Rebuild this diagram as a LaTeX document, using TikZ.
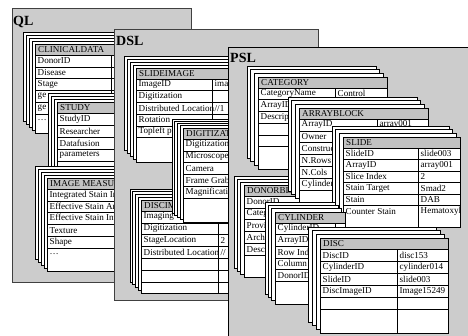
\documentclass[tikz,border=0pt]{standalone}
\usepackage{fontspec}
\setmainfont{Liberation Serif}

\tikzset{
  panel/.style={fill=black!20, draw=black!75, line width=0.6pt},
  card/.style={fill=white, draw=black, line width=0.6pt},
  head/.style={fill=black!24},
  rowline/.style={draw=black, line width=0.5pt},
  celltext/.style={anchor=west, inner sep=0pt, font=\fontsize{9.1}{10}\selectfont},
  paneltitle/.style={anchor=base west, inner sep=0pt, font=\fontsize{14}{16}\selectfont\bfseries},
}

\newcommand{\dbl}{//}
% cards behind a table: how many, and their shift
\newcommand{\ncard}{4}
\newcommand{\cdx}{3}
\newcommand{\cdy}{3}

% #1 name, #2 top left, #3 width, #4 height, #5 column split,
% #6 row height, #7 row lines, #8 title, #9 rows
\newcommand{\dbtable}[9]{%
  \begin{scope}[shift={#2}]
    \foreach \k in {\ncard,...,1}
      \draw[card] (-\k*\cdx,-\k*\cdy) rectangle ++(#3,#4);
    \draw[card] (0,0) rectangle (#3,#4);
    \fill[head] (0,0) rectangle (#3,11);
    \draw[rowline] (0,11) -- (#3,11);
    \foreach \i in {1,...,#7}
      \draw[rowline] (0,11+\i*#6) -- (#3,11+\i*#6);
    \draw[rowline] (#5,11) -- (#5,#4);
    \draw[card, fill=none] (0,0) rectangle (#3,#4);
    \begin{scope}
      \clip (0,0) rectangle (#3,#4);
      \node[celltext] (#1) at (3,5.5) {#8};
      \foreach [count=\i] \a/\b in {#9} {
        \node[celltext] (#1-\i) at (2.5,11+\i*#6-0.5*#6) {\a};
        \node[celltext] (#1-v\i) at (#5+2.5,11+\i*#6-0.5*#6) {\b};
      }
    \end{scope}
  \end{scope}}

\begin{document}
\begin{tikzpicture}[x=1pt, y=-1pt]
    \clip (0,0) rectangle (468,335);
    % ---- QL
    \draw[panel] (12,8.5) rectangle (191,282);
    \node[paneltitle] (ql) at (13,25) {QL};
    \dbtable{clinical}{(35,44)}{115}{89}{76}{11.8}{5}{CLINICALDATA}
      {DonorID/, Disease/, Stage/, ge/, ge/, \dots/}
    \renewcommand{\ncard}{3}
    \dbtable{study}{(57,102)}{90}{90}{70}{12}{4}{STUDY}
      {StudyID/, Researcher/, Datafusion/, parameters/}
    \renewcommand{\ncard}{4}
    \dbtable{measure}{(47,178)}{100}{93}{85}{11.8}{5}{IMAGE MEASUREMENT}
      {Integrated Stain Intensity/, Effective Stain Area/, Effective Stain Intensity/, Texture/, Shape/, \dots/}
    % ---- DSL
    \draw[panel] (114,29.5) rectangle (318,300);
    \node[paneltitle] (dsl) at (116,45) {DSL};
    \dbtable{slideimage}{(136,68)}{110}{94}{76}{11.7}{5}{SLIDEIMAGE}
      {ImageID/image15249, Digitization/, Distributed Location/\dbl1, Rotation/, Topleft p/}
    \renewcommand{\cdx}{2.75}\renewcommand{\cdy}{2.75}
    \dbtable{discimage}{(141,200)}{100}{93}{77}{11.8}{6}{DISCIMAGE}
      {Imaging/, Digitization/, StageLocation/2, Distributed Location/\dbl}
    \renewcommand{\cdy}{2.3}
    \dbtable{digitization}{(183,128)}{90}{94}{70}{11.8}{5}{DIGITIZATION}
      {Digitization/, Microscope/, Camera/, Frame Grabber/, Magnification/}
    % ---- PSL
    \draw[panel, draw=black] (228,47.5) rectangle (475,340);
    \node[paneltitle] (psl) at (230,62) {PSL};
    \renewcommand{\ncard}{3}
    \renewcommand{\cdx}{3.7}\renewcommand{\cdy}{3.7}
    \dbtable{category}{(258,77)}{129}{92}{77}{11.7}{5}{CATEGORY}
      {CategoryName/Control, ArrayID/, Description/}
    \renewcommand{\cdx}{3.3}\renewcommand{\cdy}{2.8}
    \dbtable{donor}{(244,185)}{100}{92}{80}{11.8}{5}{DONORBLOCK}
      {DonorID/, Category/, Provider/, Archive/, Desc/}
    \renewcommand{\cdx}{3.7}\renewcommand{\cdy}{3.7}
    \dbtable{array}{(299,108)}{129}{94}{78}{11.8}{6}{ARRAYBLOCK}
      {ArrayID/array001, Owner/, Construction/, N.Rows/, N.Cols/, CylinderID/}
    \dbtable{slide}{(343,137)}{117}{90}{75}{11.5}{5}{SLIDE}
      {SlideID/slide003, ArrayID/array001, Slice Index/2, Stain Target/Smad2, Stain/DAB, Counter Stain/Hematoxylin}
    \renewcommand{\cdx}{3.3}\renewcommand{\cdy}{3.3}
    \dbtable{cylinder}{(275,212)}{70}{92}{60}{11.6}{5}{CYLINDER}
      {CylinderID/, ArrayID/, Row Index/, Column/, DonorID/}
    \renewcommand{\cdx}{4}\renewcommand{\cdy}{3.7}
    \dbtable{disc}{(320,238)}{128}{95}{77}{12.1}{5}{DISC}
      {DiscID/disc153, CylinderID/cylinder014, SlideID/slide003, DiscImageID/Image15249}
\end{tikzpicture}
\end{document}
